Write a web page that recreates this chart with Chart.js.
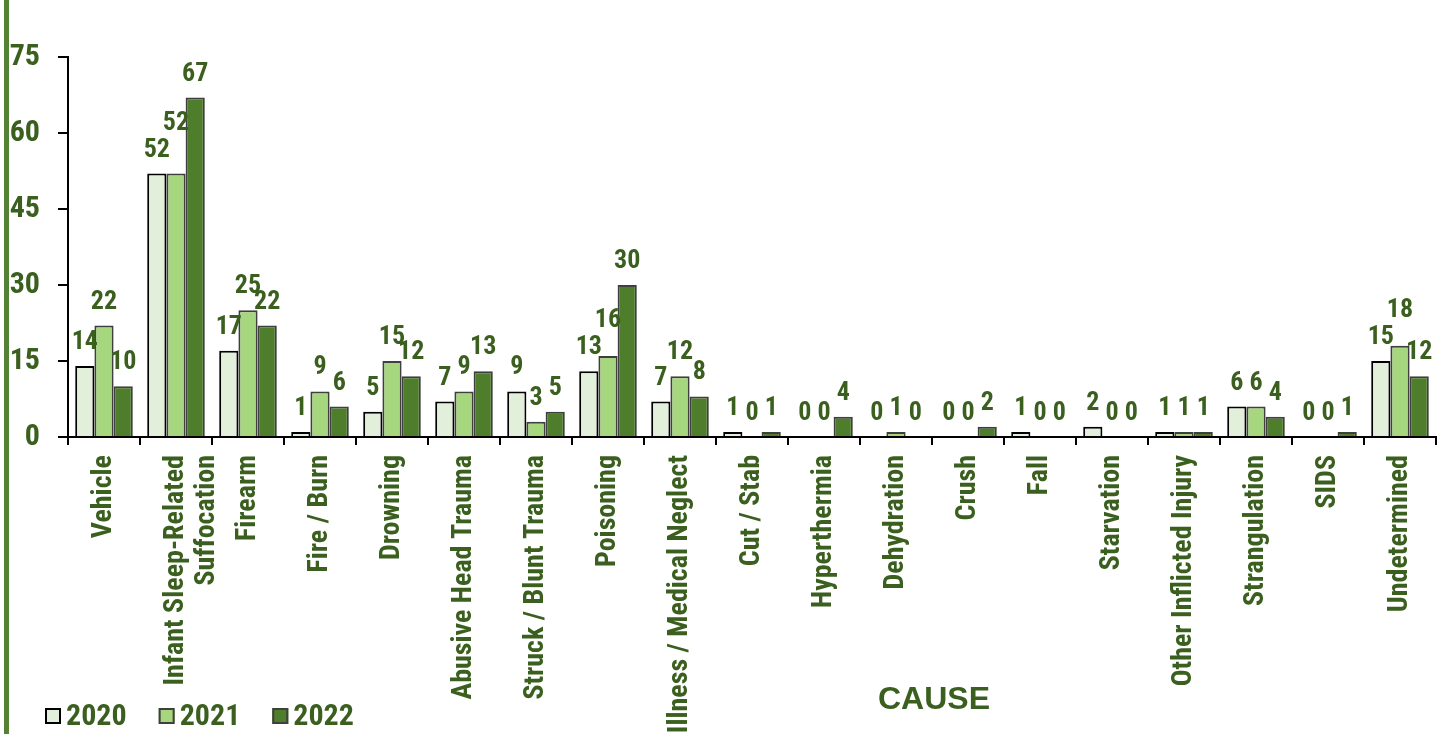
<!DOCTYPE html>
<html><head><meta charset="utf-8">
<script src="https://cdn.jsdelivr.net/npm/chart.js@4.4.1/dist/chart.umd.min.js"></script>
<style>html,body{margin:0;padding:0;background:#fff;overflow:hidden}#wrap{position:relative;width:1455px;height:734px}</style>
</head><body><div id="wrap"><canvas id="c" width="1455" height="734"></canvas></div>
<script>
const categories = ['Vehicle', ['Infant Sleep-Related', 'Suffocation'], 'Firearm', 'Fire / Burn', 'Drowning',
  'Abusive Head Trauma', 'Struck / Blunt Trauma', 'Poisoning', 'Illness / Medical Neglect', 'Cut / Stab',
  'Hyperthermia', 'Dehydration', 'Crush', 'Fall', 'Starvation', 'Other Inflicted Injury', 'Strangulation',
  'SIDS', 'Undetermined'];
const years = ['2020', '2021', '2022'];
const values2020 = [14, 52, 17, 1, 5, 7, 9, 13, 7, 1, 0, 0, 0, 1, 2, 1, 6, 0, 15];
const values2021 = [22, 52, 25, 9, 15, 9, 3, 16, 12, 0, 0, 1, 0, 0, 0, 1, 6, 0, 18];
const values2022 = [10, 67, 22, 6, 12, 13, 5, 30, 8, 1, 4, 0, 2, 0, 0, 1, 4, 1, 12];
const yTicks = [0, 15, 30, 45, 60, 75];
const axisTitle = 'CAUSE';

const NARROW = "'Liberation Sans Narrow','Arial Narrow','Roboto Condensed','DejaVu Sans Condensed',sans-serif";
const TEXT = '#3A5F1E';

const deco = {
  id: 'deco',
  beforeDraw(chart) {
    const ctx = chart.ctx; ctx.save();
    ctx.fillStyle = '#fff'; ctx.fillRect(0, 0, chart.width, chart.height);
    ctx.fillStyle = '#548235'; ctx.fillRect(4, 0, 5, chart.height);
    ctx.restore();
  },
  afterDraw(chart) {
    const ctx = chart.ctx; ctx.save();
    ctx.font = "bold 32px 'Liberation Sans', Arial, sans-serif";
    ctx.fillStyle = TEXT; ctx.textAlign = 'center'; ctx.textBaseline = 'middle';
    ctx.fillText(axisTitle, 934, 700);
    ctx.font = 'bold 30px ' + NARROW; ctx.textAlign = 'left'; ctx.textBaseline = 'middle';
    let x = 45; const y = 716;
    chart.data.datasets.forEach(ds => {
      ctx.fillStyle = ds.backgroundColor; ctx.fillRect(x, y - 8, 16, 16);
      ctx.lineWidth = 2; ctx.strokeStyle = ds.borderColor; ctx.strokeRect(x + 1, y - 7, 14, 14);
      ctx.fillStyle = TEXT; ctx.fillText(ds.label, x + 21, y + 1);
      x += 21 + ctx.measureText(ds.label).width + 32;
    });
    ctx.restore();
  }
};

const valueLabels = {
  id: 'valueLabels',
  afterDatasetsDraw(chart) {
    const ctx = chart.ctx; ctx.save();
    ctx.font = 'bold 26px ' + NARROW; ctx.fillStyle = TEXT;
    ctx.textAlign = 'center'; ctx.textBaseline = 'alphabetic';
    const placed = {};
    const H = 18, GAP = 17, SEP = 9;
    chart.data.datasets.forEach((ds, di) => {
      const meta = chart.getDatasetMeta(di);
      meta.data.forEach((el, i) => {
        const v = ds.data[i];
        const t = String(v);
        const w = ctx.measureText(t).width;
        let base = el.y - GAP;
        const list = placed[i] || (placed[i] = []);
        for (const p of list) {
          const h = Math.min(el.x + w / 2, p.x + p.w / 2) - Math.max(el.x - w / 2, p.x - p.w / 2);
          const vv = Math.min(base, p.base) - Math.max(base - H, p.base - H);
          if (h > 0 && vv > 0 && v >= p.v) base = p.base - H - SEP;
        }
        ctx.fillText(t, el.x, base);
        list.push({ x: el.x, w, base, v });
      });
    });
    ctx.restore();
  }
};

const colors = ['#E2EFDA', '#A6D67E', '#4E7D2B'];
const borders = ['#000000', '#3F3F3F', '#3F3F3F'];
const series = [values2020, values2021, values2022];

new Chart(document.getElementById('c'), {
  type: 'bar',
  data: {
    labels: categories,
    datasets: years.map((y, k) => ({
      label: y, data: series[k], backgroundColor: colors[k], borderColor: borders[k],
      borderWidth: 2, categoryPercentage: 0.8, barPercentage: 1.0
    }))
  },
  options: {
    responsive: false, animation: false, devicePixelRatio: 1,
    layout: { padding: { top: 57, right: 19, left: 0, bottom: 0 } },
    plugins: { legend: { display: false }, tooltip: { enabled: false } },
    scales: {
      x: {
        grid: { drawOnChartArea: false, drawTicks: true, tickLength: 8, color: '#000', lineWidth: 2, offset: true },
        border: { display: true, color: '#000', width: 2 },
        ticks: { autoSkip: false, minRotation: 90, maxRotation: 90, color: TEXT, padding: 10,
          font: { family: NARROW, size: 28, weight: 'bold', lineHeight: 1.1 } },
        afterFit(s) { s.height = 297; }
      },
      y: {
        min: 0, max: 75,
        afterBuildTicks(s) { s.ticks = yTicks.map(v => ({ value: v })); },
        ticks: { color: TEXT, padding: 18, font: { family: NARROW, size: 30, weight: 'bold' } },
        grid: { drawOnChartArea: false, drawTicks: true, tickLength: 10, color: '#000', lineWidth: 2 },
        border: { display: true, color: '#000', width: 2 },
        afterFit(s) { s.width = 68; }
      }
    }
  },
  plugins: [deco, valueLabels]
});
</script>
</body></html>
